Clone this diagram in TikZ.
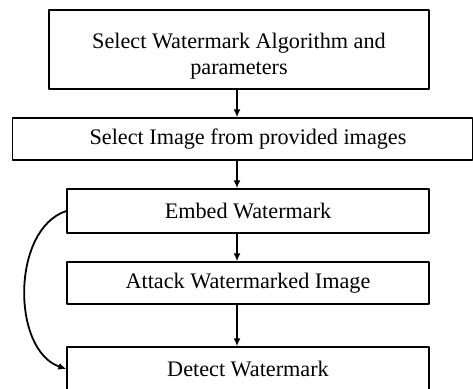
\documentclass[tikz,border=0pt]{standalone}
\usepackage{fontspec}
\setmainfont{Liberation Serif}
\usetikzlibrary{arrows.meta}
\begin{document}
\begin{tikzpicture}[x=0.5pt, y=-0.5pt, font=\fontsize{11.1}{13}\selectfont, line join=round, line cap=round, >={Latex[length=4pt,width=3.5pt]},
	box/.style={draw, line width=0.7pt, inner sep=0pt, align=center},
	flow/.style={->, line width=1.2pt}]
	\useasboundingbox (0,0) rectangle (473,388);
	\node[box, minimum width=190pt, minimum height=39.5pt] (algo) at (239,49.5) {\rule{0pt}{14.5pt}Select Watermark Algorithm and\\parameters};
	\node[box, minimum width=230pt, minimum height=21pt] (image) at (242.5,139) {\hspace{5.5pt}Select Image from provided images};
	\node[box, minimum width=181pt, minimum height=22pt] (embed) at (248,211) {Embed Watermark};
	\node[box, minimum width=181pt, minimum height=21pt] (attack) at (248,283) {Attack Watermarked Image};
	\node[box, minimum width=181pt, minimum height=22pt] (detect) at (248,369) {Detect Watermark};
	\coordinate (ax) at (237,0);
	\draw[flow] (algo.south -| ax) -- (image.north -| ax);
	\draw[flow] (image.south -| ax) -- (embed.north -| ax);
	\draw[flow] (embed.south -| ax) -- (attack.north -| ax);
	\draw[flow] (attack.south -| ax) -- (detect.north -| ax);
	\draw[->, line width=0.9pt] (embed.west) .. controls +(-55,18) and +(-55,-19) .. (detect.west);
\end{tikzpicture}
\end{document}
